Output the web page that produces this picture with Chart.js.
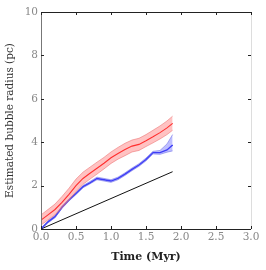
<!DOCTYPE html>
<html>
<head>
<meta charset="utf-8">
<script src="https://cdn.jsdelivr.net/npm/chart.js@4"></script>
<style>
  html, body { margin: 0; padding: 0; background: #fff; }
  #wrap { width: 266px; height: 270px; }
</style>
</head>
<body>
<div id="wrap"><canvas id="bubbleChart" width="266" height="270"></canvas></div>
<script>
// Sample times (Myr)
const times = [0, 0.1, 0.2, 0.3, 0.4, 0.5, 0.6, 0.7, 0.8, 0.9, 1.0, 1.1, 1.2, 1.3, 1.4, 1.5, 1.6, 1.7, 1.8, 1.88];

// Red estimate and its spread (pc)
const redMid = [0.41, 0.65, 0.9, 1.23, 1.6, 2.0, 2.33, 2.57, 2.8, 3.03, 3.28, 3.48, 3.66, 3.82, 3.9, 4.07, 4.25, 4.44, 4.66, 4.87];
const redHigh = [0.65, 0.9, 1.15, 1.5, 1.88, 2.3, 2.62, 2.85, 3.08, 3.3, 3.55, 3.76, 3.95, 4.1, 4.18, 4.35, 4.55, 4.75, 4.98, 5.2];
const redLow = [0.18, 0.42, 0.66, 0.98, 1.34, 1.72, 2.06, 2.3, 2.53, 2.77, 3.02, 3.22, 3.38, 3.55, 3.62, 3.8, 3.97, 4.15, 4.35, 4.55];

// Blue estimate and its spread (pc)
const blueMid = [0.0, 0.33, 0.57, 1.0, 1.34, 1.64, 1.95, 2.13, 2.33, 2.27, 2.21, 2.33, 2.53, 2.75, 2.95, 3.2, 3.52, 3.52, 3.64, 3.87];
const blueHigh = [0.04, 0.38, 0.62, 1.05, 1.39, 1.69, 2.0, 2.19, 2.39, 2.33, 2.27, 2.39, 2.59, 2.81, 3.01, 3.27, 3.58, 3.62, 3.92, 4.35];
const blueLow = [0.0, 0.28, 0.52, 0.95, 1.29, 1.59, 1.9, 2.08, 2.27, 2.21, 2.15, 2.27, 2.47, 2.69, 2.89, 3.14, 3.46, 3.44, 3.54, 3.6];

// Reference straight line (pc)
const lineTimes = [0, 1.88];
const lineRadius = [0, 2.64];

// Axis ticks
const xTicks = [0, 0.5, 1.0, 1.5, 2.0, 2.5, 3.0];
const yTicks = [0, 2, 4, 6, 8, 10];

function pts(xs, ys) {
  return xs.map((x, i) => ({ x: x, y: ys[i] }));
}

const serif = '"DejaVu Serif", "Liberation Serif", serif';

// Draws the frame and inward tick marks
const frame = {
  id: 'frame',
  afterDatasetsDraw(chart) {
    const { ctx, chartArea: a, scales } = chart;
    ctx.save();
    ctx.lineWidth = 1;
    ctx.strokeStyle = '#222';
    ctx.beginPath();
    ctx.moveTo(a.left, a.top + 0.5);
    ctx.lineTo(a.right, a.top + 0.5);
    ctx.moveTo(a.left, a.bottom + 0.5);
    ctx.lineTo(a.right, a.bottom + 0.5);
    ctx.stroke();
    ctx.strokeStyle = '#777';
    ctx.beginPath();
    ctx.moveTo(a.left + 0.5, a.top);
    ctx.lineTo(a.left + 0.5, a.bottom);
    ctx.stroke();
    ctx.strokeStyle = '#ddd';
    ctx.beginPath();
    ctx.moveTo(a.right + 0.5, a.top);
    ctx.lineTo(a.right + 0.5, a.bottom);
    ctx.stroke();
    ctx.strokeStyle = '#222';
    ctx.beginPath();
    xTicks.forEach((v) => {
      const px = Math.round(scales.x.getPixelForValue(v)) + 0.5;
      ctx.moveTo(px, a.bottom);
      ctx.lineTo(px, a.bottom - 3);
      ctx.moveTo(px, a.top);
      ctx.lineTo(px, a.top + 3);
    });
    yTicks.forEach((v) => {
      const py = Math.round(scales.y.getPixelForValue(v)) + 0.5;
      ctx.moveTo(a.left, py);
      ctx.lineTo(a.left + 3, py);
      ctx.moveTo(a.right, py);
      ctx.lineTo(a.right - 3, py);
    });
    ctx.stroke();
    ctx.restore();
  }
};

const ctx = document.getElementById('bubbleChart').getContext('2d');
const bubbleChart = new Chart(ctx, {
  type: 'line',
  data: {
    datasets: [
      { data: pts(times, redLow), borderColor: 'rgba(235,110,110,0.55)', borderWidth: 1, pointRadius: 0, fill: false },
      { data: pts(times, redHigh), borderColor: 'rgba(235,110,110,0.55)', borderWidth: 1, pointRadius: 0,
        fill: '-1', backgroundColor: 'rgba(255,110,110,0.42)' },
      { data: pts(times, redMid), borderColor: '#ff0000', borderWidth: 1.1, pointRadius: 0, fill: false },
      { data: pts(times, blueLow), borderColor: 'rgba(110,110,230,0.55)', borderWidth: 1, pointRadius: 0, fill: false },
      { data: pts(times, blueHigh), borderColor: 'rgba(110,110,230,0.55)', borderWidth: 1, pointRadius: 0,
        fill: '-1', backgroundColor: 'rgba(110,110,255,0.45)' },
      { data: pts(times, blueMid), borderColor: '#1414f0', borderWidth: 1.4, pointRadius: 0, fill: false },
      { data: pts(lineTimes, lineRadius), borderColor: '#111', borderWidth: 1, pointRadius: 0, fill: false }
    ]
  },
  options: {
    responsive: false,
    animation: false,
    events: [],
    layout: { padding: { top: 12, right: 15, left: 4, bottom: 6 } },
    plugins: { legend: { display: false }, tooltip: { enabled: false } },
    scales: {
      x: {
        type: 'linear',
        min: 0,
        max: 3,
        afterBuildTicks: (s) => { s.ticks = xTicks.map((v) => ({ value: v })); },
        afterFit: (s) => { s.height = 35; },
        grid: { display: false, drawTicks: false },
        border: { display: false },
        ticks: {
          padding: 2,
          color: '#888',
          font: { family: serif, size: 10.5 },
          callback: (v) => Number(v).toFixed(1)
        },
        title: {
          display: true,
          text: 'Time (Myr)',
          color: '#222',
          font: { family: serif, size: 11, weight: 'bold' },
          padding: { top: 4, bottom: 0 }
        }
      },
      y: {
        min: 0,
        max: 10,
        afterBuildTicks: (s) => { s.ticks = yTicks.map((v) => ({ value: v })); },
        afterFit: (s) => { s.width = 37; },
        grid: { display: false, drawTicks: false },
        border: { display: false },
        ticks: {
          padding: 3,
          color: '#888',
          font: { family: serif, size: 10.5 }
        },
        title: {
          display: true,
          text: 'Estimated bubble radius (pc)',
          color: '#333',
          font: { family: serif, size: 10.5 },
          padding: { top: 0, bottom: 2 }
        }
      }
    }
  },
  plugins: [frame]
});
</script>
</body>
</html>
